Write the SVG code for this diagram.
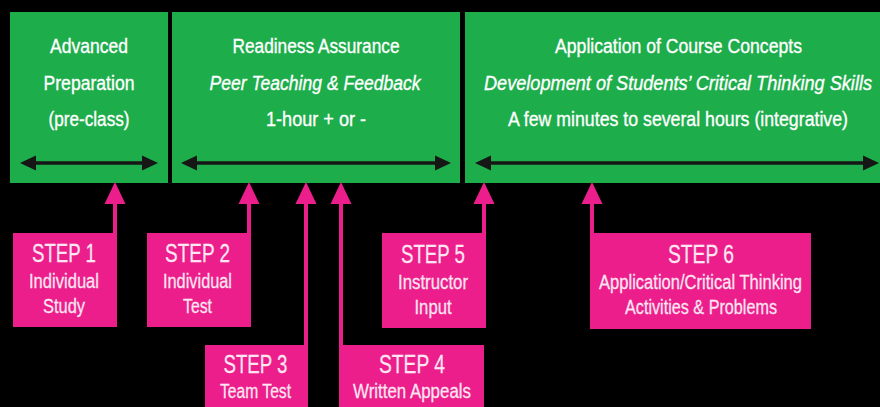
<svg xmlns="http://www.w3.org/2000/svg" width="880" height="407" viewBox="0 0 880 407">
<style>
.phase{fill:#1DAD4B}
.step{fill:#EC1E8C}
.h{font-family:"Liberation Sans",Arial,sans-serif;font-size:21px;fill:#FFFFFF;stroke:#FFFFFF;stroke-width:0.35;text-anchor:middle}
.i{font-style:italic}
.s{font-family:"Liberation Sans",Arial,sans-serif;fill:#FDE6F1;stroke:#FDE6F1;stroke-width:0.25;text-anchor:middle}
.big{font-size:26px}
.sm{font-size:20px}
.tl{stroke:#161616;stroke-width:3.5;fill:none}
.pa{stroke:#EC1E8C;stroke-width:4;fill:none}
</style>
<defs>
<marker id="bh" markerUnits="userSpaceOnUse" markerWidth="20" markerHeight="20" refX="0" refY="0" viewBox="0 -10 20 20" orient="auto-start-reverse">
<path d="M0,-7.5 L16,0 L0,7.5 Z" fill="#161616"/>
</marker>
<marker id="ph" markerUnits="userSpaceOnUse" markerWidth="24" markerHeight="24" refX="0" refY="0" viewBox="0 -12 24 24" orient="auto">
<path d="M0,-10.5 L22,0 L0,10.5 Z" fill="#EC1E8C"/>
</marker>
</defs>
<rect x="0" y="0" width="880" height="407" fill="#000000"/>

<g id="phase-prep">
<rect class="phase" x="10" y="12" width="158" height="171"/>
<text class="h" transform="translate(89 53) scale(0.8 1)" textLength="97.5" lengthAdjust="spacingAndGlyphs">Advanced</text>
<text class="h" transform="translate(89 90) scale(0.8 1)" textLength="113.75" lengthAdjust="spacingAndGlyphs">Preparation</text>
<text class="h" transform="translate(89 126) scale(0.8 1)" textLength="101.25" lengthAdjust="spacingAndGlyphs">(pre-class)</text>
</g>

<g id="phase-readiness">
<rect class="phase" x="172" y="12" width="288" height="171"/>
<text class="h" transform="translate(316 53) scale(0.8 1)" textLength="208.75" lengthAdjust="spacingAndGlyphs">Readiness Assurance</text>
<text class="h i" transform="translate(315 90) scale(0.8 1)" textLength="263.75" lengthAdjust="spacingAndGlyphs">Peer Teaching &amp; Feedback</text>
<text class="h" transform="translate(316 126) scale(0.8 1)" textLength="125" lengthAdjust="spacingAndGlyphs">1-hour + or -</text>
</g>

<g id="phase-application">
<rect class="phase" x="465" y="12" width="415" height="171"/>
<text class="h" transform="translate(678.5 53) scale(0.8 1)" textLength="308.75" lengthAdjust="spacingAndGlyphs">Application of Course Concepts</text>
<text class="h i" transform="translate(678 90) scale(0.8 1)" textLength="485" lengthAdjust="spacingAndGlyphs">Development of Students’ Critical Thinking Skills</text>
<text class="h" transform="translate(678 126) scale(0.8 1)" textLength="425" lengthAdjust="spacingAndGlyphs">A few minutes to several hours (integrative)</text>
</g>

<g id="step1">
<rect class="step" x="13" y="233" width="104" height="94"/>
<text class="s big" transform="translate(64 262) scale(0.8 1)" textLength="80" lengthAdjust="spacingAndGlyphs">STEP 1</text>
<text class="s sm" transform="translate(64 288) scale(0.8 1)" textLength="87.5" lengthAdjust="spacingAndGlyphs">Individual</text>
<text class="s sm" transform="translate(64 313) scale(0.8 1)" textLength="52.5" lengthAdjust="spacingAndGlyphs">Study</text>
</g>

<g id="step2">
<rect class="step" x="147" y="233" width="104" height="94"/>
<text class="s big" transform="translate(197.5 262) scale(0.8 1)" textLength="81.25" lengthAdjust="spacingAndGlyphs">STEP 2</text>
<text class="s sm" transform="translate(197.5 288) scale(0.8 1)" textLength="86.25" lengthAdjust="spacingAndGlyphs">Individual</text>
<text class="s sm" transform="translate(197.5 313) scale(0.8 1)" textLength="36.25" lengthAdjust="spacingAndGlyphs">Test</text>
</g>

<g id="step3">
<rect class="step" x="205" y="345" width="103" height="62"/>
<text class="s big" transform="translate(255.5 373) scale(0.8 1)" textLength="80" lengthAdjust="spacingAndGlyphs">STEP 3</text>
<text class="s sm" transform="translate(255.5 398) scale(0.8 1)" textLength="88.75" lengthAdjust="spacingAndGlyphs">Team Test</text>
</g>

<g id="step4">
<rect class="step" x="339" y="345" width="145" height="62"/>
<text class="s big" transform="translate(412 373) scale(0.8 1)" textLength="82.5" lengthAdjust="spacingAndGlyphs">STEP 4</text>
<text class="s sm" transform="translate(412 398) scale(0.8 1)" textLength="147.5" lengthAdjust="spacingAndGlyphs">Written Appeals</text>
</g>

<g id="step5">
<rect class="step" x="382" y="233" width="104" height="95"/>
<text class="s big" transform="translate(433 263) scale(0.8 1)" textLength="80" lengthAdjust="spacingAndGlyphs">STEP 5</text>
<text class="s sm" transform="translate(433 289) scale(0.8 1)" textLength="87.5" lengthAdjust="spacingAndGlyphs">Instructor</text>
<text class="s sm" transform="translate(433 314) scale(0.8 1)" textLength="46.25" lengthAdjust="spacingAndGlyphs">Input</text>
</g>

<g id="step6">
<rect class="step" x="590" y="233" width="221" height="96"/>
<text class="s big" transform="translate(701 263) scale(0.8 1)" textLength="82.5" lengthAdjust="spacingAndGlyphs">STEP 6</text>
<text class="s sm" transform="translate(700.5 289) scale(0.8 1)" textLength="253.75" lengthAdjust="spacingAndGlyphs">Application/Critical Thinking</text>
<text class="s sm" transform="translate(701 314) scale(0.8 1)" textLength="190" lengthAdjust="spacingAndGlyphs">Activities &amp; Problems</text>
</g>

<g id="connectors">
<line class="tl" x1="36" y1="163" x2="142" y2="163" marker-start="url(#bh)" marker-end="url(#bh)"/>
<line class="tl" x1="197" y1="163" x2="435" y2="163" marker-start="url(#bh)" marker-end="url(#bh)"/>
<line class="tl" x1="491" y1="163" x2="863" y2="163" marker-start="url(#bh)" marker-end="url(#bh)"/>
<line class="pa" x1="115" y1="235" x2="115" y2="204" marker-end="url(#ph)"/>
<line class="pa" x1="249" y1="235" x2="249" y2="204" marker-end="url(#ph)"/>
<line class="pa" x1="306" y1="347" x2="306" y2="204" marker-end="url(#ph)"/>
<line class="pa" x1="341" y1="347" x2="341" y2="204" marker-end="url(#ph)"/>
<line class="pa" x1="484" y1="235" x2="484" y2="204" marker-end="url(#ph)"/>
<line class="pa" x1="592" y1="235" x2="592" y2="204" marker-end="url(#ph)"/>
</g>
</svg>
